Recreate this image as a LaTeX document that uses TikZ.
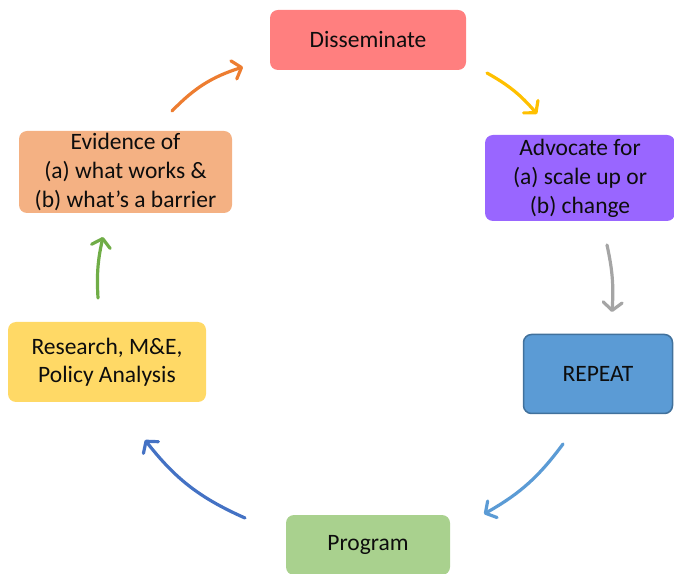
\documentclass[tikz,border=0pt]{standalone}
\usepackage{fontspec}
\setmainfont{Carlito}
\usetikzlibrary{arrows.meta}
\definecolor{cDis}{RGB}{255,127,127}
\definecolor{cAdv}{RGB}{153,102,255}
\definecolor{cRep}{RGB}{91,155,213}
\definecolor{cRepB}{RGB}{65,113,156}
\definecolor{cProg}{RGB}{169,209,142}
\definecolor{cRes}{RGB}{255,217,102}
\definecolor{cEvi}{RGB}{244,177,131}
\definecolor{aOr}{RGB}{237,125,49}
\definecolor{aYe}{RGB}{255,192,0}
\definecolor{aGr}{RGB}{165,165,165}
\definecolor{aLb}{RGB}{91,155,213}
\definecolor{aDb}{RGB}{68,114,196}
\definecolor{aGn}{RGB}{112,173,71}
\tikzset{
  boxstyle/.style={rounded corners=8pt, inner sep=0pt, align=center,
    text=black!95, font=\fontsize{23.5}{29}\selectfont},
  flow/.style={line width=3.2pt, line cap=round, line join=round,
    -{Straight Barb[length=8pt,width=19pt,line cap=round,line join=round]}}
}
\begin{document}
\begin{tikzpicture}[x=1pt,y=1pt]
\useasboundingbox (0,0) rectangle (674,573);
\node[boxstyle, fill=cDis, minimum width=196pt, minimum height=60pt] (dis) at (368,533) {Disseminate};
\node[boxstyle, fill=cAdv, minimum width=190pt, minimum height=86pt] (adv) at (580,395) {Advocate for\\(a) scale up or\\(b) change};
\node[boxstyle, fill=cRep, draw=cRepB, line width=1.5pt, minimum width=149pt, minimum height=79pt] (rep) at (598,199) {REPEAT};
\node[boxstyle, fill=cProg, minimum width=164pt, minimum height=60pt] (prog) at (368,28) {Program};
\node[boxstyle, fill=cRes, minimum width=198pt, minimum height=80pt, font=\fontsize{23.5}{27.5}\selectfont] (res) at (107,211) {Research, M\&E,\\Policy Analysis};
\node[boxstyle, fill=cEvi, minimum width=213pt, minimum height=82pt] (evi) at (125.5,401) {Evidence of\\(a) what works \&\\(b) what’s a barrier};

\coordinate (o1) at (172,462); \coordinate (o2) at (243,506);
\coordinate (y1) at (487,500); \coordinate (y2) at (537,459);
\coordinate (g1) at (607,328); \coordinate (g2) at (612,261);
\coordinate (l1) at (563,129); \coordinate (l2) at (484,59);
\coordinate (d1) at (245,55);  \coordinate (d2) at (145,133);
\coordinate (n1) at (98,275);  \coordinate (n2) at (103,336);

\draw[flow, aOr] (o1) to[bend left=14] (o2);
\draw[flow, aYe] (y1) to[bend left=10] (y2);
\draw[flow, aGr] (g1) to[bend left=8] (g2);
\draw[flow, aLb] (l1) to[bend left=12] (l2);
\draw[flow, aDb] (d1) to[bend left=14] (d2);
\draw[flow, aGn] (n1) to[bend left=8] (n2);
\end{tikzpicture}
\end{document}
